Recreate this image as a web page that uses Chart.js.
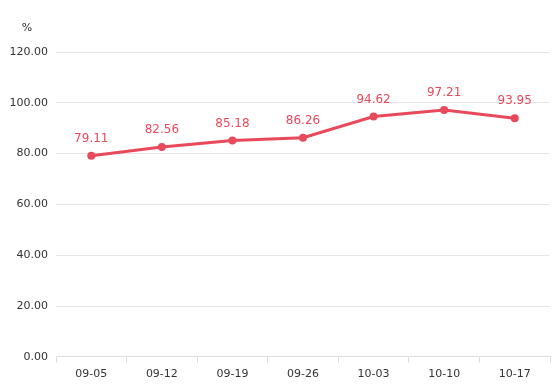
<!DOCTYPE html>
<html><head><meta charset="utf-8">
<script src="https://cdn.jsdelivr.net/npm/chart.js@4/dist/chart.umd.min.js"></script>
<style>html,body{margin:0;padding:0;background:#fff}#w{width:554px;height:388px;position:relative}</style>
</head><body><div id="w"><canvas id="c"></canvas></div>
<script>
const categories = ['09-05','09-12','09-19','09-26','10-03','10-10','10-17'];
const values = [79.11, 82.56, 85.18, 86.26, 94.62, 97.21, 93.95];
const yTicks = [0, 20, 40, 60, 80, 100, 120];
const unitLabel = '%';
const FONT = '"DejaVu Sans", sans-serif';
const RED = '#e8495b';

const labelPlugin = {
  id: 'lbl',
  afterDatasetsDraw(chart) {
    const ctx = chart.ctx;
    const meta = chart.getDatasetMeta(0);
    ctx.save();
    ctx.font = '12px ' + FONT;
    ctx.fillStyle = RED;
    ctx.textAlign = 'center';
    ctx.textBaseline = 'bottom';
    meta.data.forEach((p, i) => {
      ctx.fillText(values[i].toFixed(2), p.x, p.y - 11);
    });
    ctx.font = '11px ' + FONT;
    ctx.fillStyle = '#333';
    ctx.textAlign = 'center';
    ctx.textBaseline = 'middle';
    ctx.fillText(unitLabel, 27, 28);
    ctx.restore();
  }
};

new Chart(document.getElementById('c'), {
  type: 'line',
  data: { labels: categories, datasets: [{
    data: values, borderColor: RED, backgroundColor: RED, borderWidth: 3,
    pointRadius: 4, pointHoverRadius: 4, pointBackgroundColor: RED, pointBorderWidth: 0, tension: 0
  }]},
  options: {
    responsive: true, maintainAspectRatio: false, animation: false,
    layout: { padding: { top: 52, right: 2, left: 0, bottom: 2 } },
    plugins: { legend: { display: false }, tooltip: { enabled: false } },
    scales: {
      x: {
        offset: true,
        grid: { display: true, drawOnChartArea: false, drawTicks: true, tickLength: 6, color: '#ddd', offset: true },
        border: { display: true, color: '#ddd' },
        ticks: { color: '#333', font: { family: FONT, size: 11 }, padding: 5, maxRotation: 0 }
      },
      y: {
        min: 0, max: 120,
        afterBuildTicks(s) { s.ticks = yTicks.map(v => ({ value: v })); },
        afterFit(s) { s.width = 56; },
        grid: { color: '#e6e6e6', drawTicks: false },
        border: { display: false },
        ticks: { color: '#333', font: { family: FONT, size: 11 }, padding: 8, callback: v => v.toFixed(2) }
      }
    }
  },
  plugins: [labelPlugin]
});
</script></body></html>
